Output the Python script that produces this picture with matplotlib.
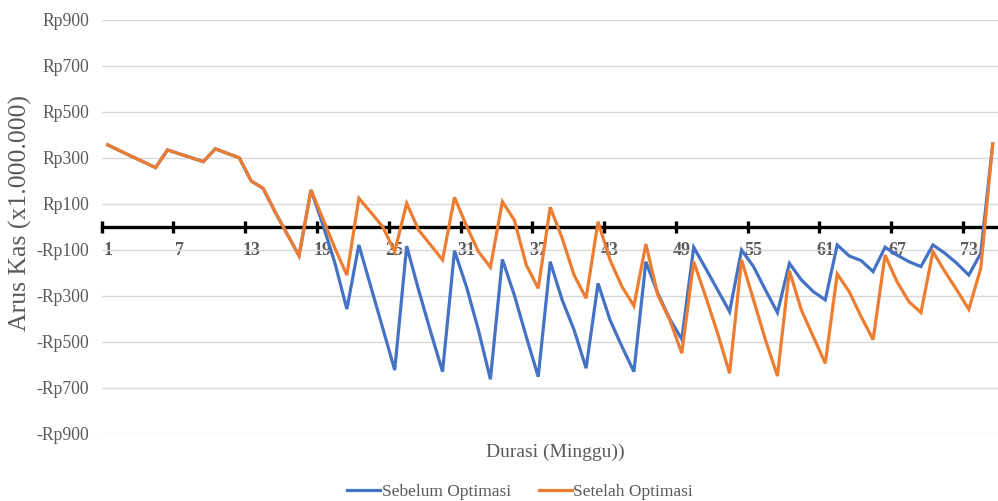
import matplotlib
matplotlib.use("Agg")
import matplotlib.pyplot as plt
from matplotlib.ticker import FixedLocator

weeks = list(range(1, 76))
sebelum = [357, 332, 307, 283, 258, 335, 318, 301, 284, 340, 320, 301, 200, 168, 65, -30, -125, 161,
           9, -157, -357, -78, -259, -440, -622, -83, -274, -455, -629, -103, -260, -448, -662,
           -141, -296, -477, -651, -151, -317, -448, -614, -245, -404, -520, -629, -151, -289,
           -400, -488, -88, -180, -274, -368, -100, -172, -274, -372, -158, -230, -281, -317,
           -78, -126, -146, -194, -88, -122, -151, -172, -78, -114, -158, -209, -114, 361]
setelah = [357, 332, 307, 283, 258, 335, 318, 301, 284, 340, 320, 301, 200, 168, 65, -30, -125, 161,
           35, -92, -209, 125, 64, 1, -107, 103, -13, -78, -143, 129, 5, -107, -175, 110, 30,
           -165, -267, 86, -49, -209, -310, 23, -143, -259, -343, -74, -296, -404, -549, -151,
           -303, -462, -636, -143, -317, -491, -648, -190, -361, -477, -593, -204, -281, -390,
           -490, -122, -238, -325, -372, -107, -194, -274, -358, -180, 361]
ytick_vals = [-900, -700, -500, -300, -100, 100, 300, 500, 700, 900]
ytick_labels = ["-Rp900", "-Rp700", "-Rp500", "-Rp300", "-Rp100", "Rp100", "Rp300", "Rp500", "Rp700", "Rp900"]
xlabel_weeks = [1, 7, 13, 19, 25, 31, 37, 43, 49, 55, 61, 67, 73]

SERIF = ["Liberation Serif", "DejaVu Serif"]
GRAY = "#595959"
W, H = 998, 501
fig = plt.figure(figsize=(W / 100, H / 100), dpi=100)
left, right, top, bottom = 101.7, 998.7, 20, 434
ax = fig.add_axes([left / W, (H - bottom) / H, (right - left) / W, (bottom - top) / H])

ax.set_xlim(0.5, len(weeks) + 0.5)
ax.set_ylim(-900, 900)
ax.set_yticks(ytick_vals)
ax.set_yticklabels(ytick_labels, fontfamily=SERIF, fontsize=12.7, color=GRAY)
ax.grid(axis="y", color="#D9D9D9", lw=1)
ax.tick_params(axis="y", length=0, pad=9)
ax.set_axisbelow(True)

for s in ["top", "right", "left"]:
    ax.spines[s].set_visible(False)
ax.spines["bottom"].set_position(("data", 0))
ax.spines["bottom"].set_color("black")
ax.spines["bottom"].set_linewidth(2.4)
ax.spines["bottom"].set_zorder(2)

ax.set_xticks(xlabel_weeks)
ax.set_xticklabels([str(w) for w in xlabel_weeks], fontfamily=SERIF, fontsize=13,
                   fontweight="bold", color=GRAY)
ax.tick_params(axis="x", which="major", length=0, pad=10.5)
ax.xaxis.set_minor_locator(FixedLocator([w - 0.5 for w in xlabel_weeks]))
ax.tick_params(axis="x", which="minor", direction="inout", length=8, width=2.4, color="black")

ax.plot(weeks, sebelum, color="#4472C4", lw=2.3, label="Sebelum Optimasi", zorder=3,
        solid_joinstyle="miter")
ax.plot(weeks, setelah, color="#ED7D31", lw=2.3, label="Setelah Optimasi", zorder=4,
        solid_joinstyle="miter")

fig.text(20 / W, 1 - 213 / H, "Arus Kas (x1.000.000)", rotation=90, ha="center", va="center",
         fontfamily=SERIF, fontsize=18.5, color=GRAY)
fig.text(555 / W, 1 - 452 / H, "Durasi (Minggu))", ha="center", va="center",
         fontfamily=SERIF, fontsize=14, color=GRAY)

leg = fig.legend(loc="center", bbox_to_anchor=(520 / W, 1 - 492 / H), ncol=2, frameon=False,
                 prop={"family": SERIF, "size": 12.5}, handlelength=1.9, handletextpad=0.1,
                 columnspacing=1.6)
for t in leg.get_texts():
    t.set_color(GRAY)

fig.savefig("out.png", dpi=100)
